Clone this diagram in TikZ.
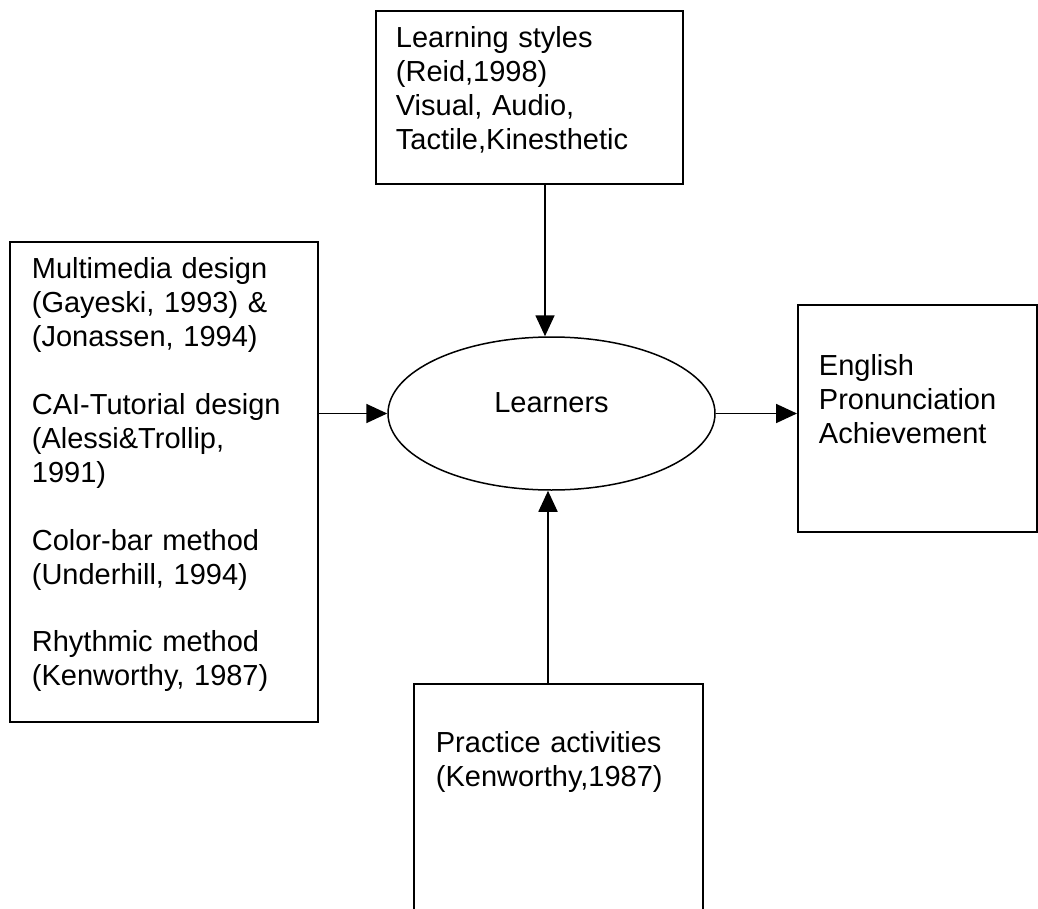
\documentclass[tikz,border=0pt]{standalone}
\usepackage{fontspec}
\setmainfont{Liberation Sans}
\usetikzlibrary{arrows.meta,shapes.geometric}
\begin{document}
\begin{tikzpicture}[x=1pt,y=-1pt,
  every node/.style={font=\fontsize{29pt}{33.9pt}\selectfont},
  box/.style={draw, line width=1.8pt, anchor=north west, align=left, inner ysep=0pt},
  oval/.style={draw, ellipse, line width=1.5pt, inner sep=0pt, minimum width=327pt, minimum height=153pt, text height=21pt, text depth=24pt},
  arr/.style={line width=1.8pt, -{Triangle[length=21pt,width=19pt]}}
]
\useasboundingbox[fill=white] (0,0) rectangle (1038,909);

\node[box, inner xsep=20pt, text width=267pt, text height=37pt, text depth=136pt] (top) at (375,10)
  {Learning styles\\(Reid,1998)\\Visual, Audio,\\Tactile,Kinesthetic};

\node[box, inner xsep=22pt, text width=264pt, text height=37pt, text depth=443pt] (left) at (9,241)
  {Multimedia design\\(Gayeski, 1993) \&\\(Jonassen, 1994)\\[\baselineskip]CAI-Tutorial design\\(Alessi\&Trollip,\\1991)\\[\baselineskip]Color-bar method\\(Underhill, 1994)\\[\baselineskip]Rhythmic method\\(Kenworthy, 1987)};

\node[box, inner xsep=21pt, text width=197pt, text height=71pt, text depth=156pt] (right) at (797,304)
  {English\\Pronunciation\\Achievement};

\node[box, inner xsep=22pt, text width=245pt, text height=69pt, text depth=180pt] (bottom) at (413,683)
  {Practice activities\\(Kenworthy,1987)};

\node[oval] (L) at (551.5,413.5) {Learners};

\coordinate (ta) at ([xshift=-6.5pt]L.north);
\coordinate (ba) at ([xshift=-3.5pt]L.south);

\draw[arr] (ta |- top.south) -- (ta);
\draw[arr] (left.east |- L.west) -- (L.west);
\draw[arr] (L.east) -- (L.east -| right.west);
\draw[arr] (ba |- bottom.north) -- (ba);
\end{tikzpicture}
\end{document}
